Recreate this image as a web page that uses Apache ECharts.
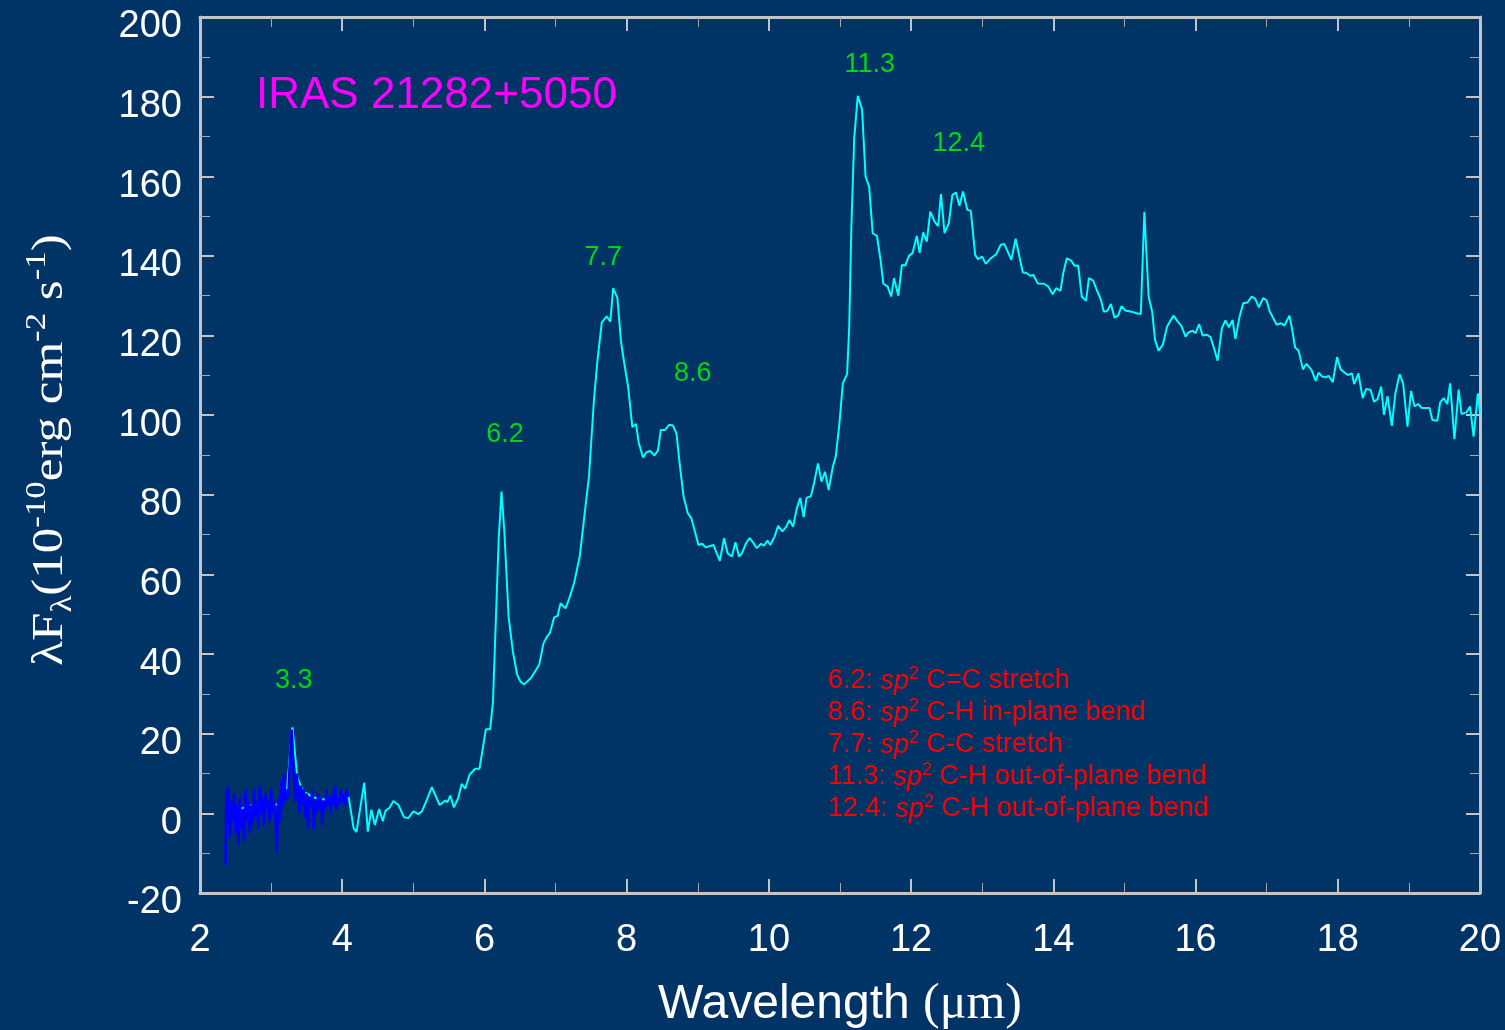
<!DOCTYPE html>
<html>
<head>
<meta charset="utf-8">
<script src="https://cdn.jsdelivr.net/npm/echarts@6/dist/echarts.min.js"></script>
<style>
html,body{margin:0;padding:0;background:#003366;}
#chart{width:1505px;height:1030px;}
</style>
</head>
<body>
<div id="chart"></div>
<script>
// ISO SWS low-resolution spectrum (cyan)
var waveCyan = [2.40,2.55,2.70,2.85,3.00,3.15,3.22,3.27,3.30,3.34,3.37,3.45,3.60,3.75,3.90,4.00,4.09,4.16,4.20,4.31,4.36,4.41,4.46,4.52,4.57,4.61,4.66,4.72,4.79,4.87,4.93,5.00,5.07,5.12,5.19,5.26,5.37,5.45,5.48,5.52,5.57,5.63,5.68,5.73,5.79,5.87,5.93,6.02,6.08,6.12,6.20,6.24,6.28,6.34,6.40,6.46,6.51,6.56,6.66,6.77,6.83,6.88,6.92,6.98,7.03,7.07,7.14,7.19,7.26,7.34,7.41,7.47,7.54,7.59,7.65,7.72,7.77,7.81,7.87,7.92,7.97,8.02,8.08,8.13,8.17,8.23,8.28,8.33,8.39,8.44,8.48,8.54,8.60,8.65,8.70,8.75,8.80,8.86,8.91,8.96,9.01,9.06,9.11,9.22,9.31,9.37,9.42,9.48,9.53,9.58,9.62,9.68,9.73,9.78,9.83,9.89,9.93,9.98,10.02,10.08,10.13,10.19,10.24,10.29,10.34,10.39,10.44,10.49,10.53,10.59,10.64,10.69,10.74,10.79,10.84,10.90,10.94,10.99,11.04,11.10,11.13,11.16,11.20,11.25,11.31,11.36,11.41,11.46,11.52,11.57,11.61,11.67,11.72,11.76,11.82,11.87,11.92,11.97,12.02,12.08,12.12,12.17,12.22,12.27,12.33,12.38,12.42,12.47,12.53,12.58,12.63,12.68,12.73,12.79,12.84,12.90,12.94,13.00,13.05,13.11,13.20,13.26,13.31,13.41,13.47,13.57,13.62,13.68,13.72,13.78,13.87,13.93,13.99,14.04,14.10,14.14,14.19,14.25,14.30,14.35,14.40,14.46,14.50,14.56,14.61,14.67,14.71,14.76,14.81,14.86,14.91,14.96,15.01,15.10,15.17,15.23,15.28,15.34,15.39,15.43,15.48,15.54,15.60,15.69,15.75,15.80,15.86,15.90,15.96,16.00,16.05,16.10,16.16,16.21,16.26,16.31,16.37,16.42,16.47,16.52,16.56,16.62,16.67,16.73,16.79,16.84,16.89,16.95,17.00,17.04,17.14,17.20,17.25,17.32,17.36,17.40,17.45,17.51,17.56,17.63,17.69,17.73,17.78,17.83,17.87,17.93,17.99,18.04,18.09,18.14,18.20,18.23,18.29,18.35,18.40,18.46,18.51,18.56,18.61,18.65,18.70,18.76,18.81,18.87,18.92,18.98,19.03,19.08,19.13,19.18,19.29,19.33,19.40,19.44,19.49,19.54,19.58,19.64,19.70,19.74,19.81,19.86,19.91,19.97,20.00];
var fluxCyan = [2,1,2,1.5,2,2.5,5,16,21.6,14.3,9,5.5,4,3.5,3.5,4,4.2,-3.7,-4.7,7.7,-4.6,0.9,-2.9,1.1,-2.0,0.7,1.3,3.1,2.1,-1.0,-1.2,0.5,-0.2,0.5,3.4,6.6,2.1,3.2,2.8,4.5,1.5,3.8,7.4,6.2,9.7,11.2,11.2,21.1,21.1,28,68.7,80.8,70.8,49.4,40.6,34.8,33.0,32.4,34.1,37.3,42.7,44.4,45.3,49.2,49.6,52.8,51.5,53.8,57.8,64.5,75.4,84.6,103.8,113.9,123.3,124.8,123.5,131.9,129.4,118.5,112.6,107.2,97.0,97.8,93.1,89.4,90.7,91.0,89.9,91.1,96.3,96.3,97.6,97.4,95.5,87.1,79.6,75.4,74.1,70.8,67.4,67.7,66.8,67.4,63.4,69.1,65.3,64.5,68.1,64.5,65.3,67.9,69.1,68.0,66.6,67.7,67.2,68.5,67.4,69.5,72.2,70.8,71.9,73.7,72.0,76.4,79.2,74.4,79.3,79.6,83.3,87.9,83.3,85.8,81.2,87.1,89.6,97.6,108.0,110.3,122.3,147.4,169.6,180.2,176.8,159.9,157.4,145.7,145.0,139.0,133.0,132.3,129.8,134.4,130.0,137.7,137.6,140.0,140.7,145.0,140.8,145.9,143.6,151.1,148.6,147.5,155.5,145.7,148.2,155.3,155.9,152.6,156.2,151.6,151.3,140.3,139.2,139.8,138.0,139.2,140.5,142.8,143.0,139.0,144.3,135.9,135.7,135.0,135.2,133.1,133.0,132.3,130.4,131.9,131.2,135.7,139.4,138.8,137.5,137.6,129.8,128.7,134.4,133.8,131.5,128.9,126.0,126.2,127.9,124.5,125.0,127.4,126.3,126.0,125.6,125.4,151.1,129.8,126.0,118.9,116.2,117.7,122.3,125.0,123.5,122.4,119.7,120.8,121.2,120.6,122.9,120.0,120.2,119.6,116.8,113.7,121.8,123.8,122.1,123.9,119.1,124.8,128.1,128.3,129.8,129.2,127.1,129.4,128.8,126.2,122.7,123.1,122.5,125.0,121.4,117.0,116.2,111.5,112.9,111.4,108.6,110.7,109.7,109.5,109.9,108.3,114.6,111.5,110.8,110.1,110.5,107.8,110.5,104.3,106.6,106.4,103.4,104.0,107.2,100.1,104.8,97.3,105.5,110.3,107.9,97.1,106.1,102.2,102.8,101.8,101.8,98.8,98.6,103.2,104.3,102.8,108.0,94.0,106.4,100.3,100.7,102.2,94.6,105.5,100.5];

// higher-resolution 3 micron spectrum (blue)
var waveBlue = [2.36,2.37,2.38,2.40,2.42,2.44,2.46,2.48,2.50,2.52,2.54,2.56,2.58,2.60,2.62,2.64,2.66,2.68,2.70,2.72,2.74,2.76,2.78,2.80,2.82,2.84,2.86,2.88,2.90,2.92,2.94,2.96,2.98,3.00,3.02,3.04,3.06,3.08,3.10,3.12,3.14,3.16,3.18,3.20,3.22,3.24,3.26,3.28,3.29,3.30,3.32,3.34,3.36,3.38,3.40,3.42,3.44,3.46,3.48,3.50,3.52,3.54,3.56,3.58,3.60,3.62,3.64,3.66,3.68,3.70,3.72,3.74,3.76,3.78,3.80,3.82,3.84,3.86,3.88,3.90,3.92,3.94,3.96,3.98,4.00,4.02,4.04,4.06,4.08];
var fluxBlue = [-13,6,-3,7,-6,3,-2,5,-5,2,-8,4,-4,1,-7,6,-2,3,-5,2,-3,6,-1,3,-4,7,0,4,-3,5,1,3,-2,6,0,3,-1,-10,4,-2,8,1,10,3,6,4,12,18,21,17,9,3,10,5,0,7,2,6,-1,5,-4,4,2,6,-4,3,0,5,1,4,-3,3,1,6,2,4,0,5,2,7,1,4,2,6,3,5,2,6,4];

// band labels
var peakNames = ['3.3','6.2','7.7','8.6','11.3','12.4'];
var peakX = [3.32,6.29,7.67,8.93,11.42,12.67];
var peakY = [33.8,95.6,140,110.9,188.5,168.7];

// axis ticks
var xMin = 2, xMax = 20, xStep = 2;
var yMin = -20, yMax = 200, yStep = 20;

var cyanData = waveCyan.map(function(w,i){return [w, fluxCyan[i]];});
var blueData = waveBlue.map(function(w,i){return [w, fluxBlue[i]];});
var peakData = peakNames.map(function(n,i){return [peakX[i], peakY[i], n];});

var SANS = '"Liberation Sans", Arial, sans-serif';
var SERIF = '"Liberation Serif", "Times New Roman", serif';
var frameColor = '#c4c4c4';

function axisCommon(showLabel, isX) {
  return {
    type: 'value',
    min: isX ? xMin : yMin,
    max: isX ? xMax : yMax,
    interval: isX ? xStep : yStep,
    axisLine: {show: true, onZero: false, lineStyle: {color: frameColor, width: 3}},
    axisTick: {show: true, inside: true, length: 14, lineStyle: {color: frameColor, width: 2}},
    minorTick: {show: true, splitNumber: 2, length: 10, lineStyle: {color: '#a8a8a8', width: 1}},
    splitLine: {show: false},
    minorSplitLine: {show: false},
    axisLabel: isX
      ? {show: showLabel, color: '#ffffff', fontSize: 38, fontFamily: SANS, margin: 29}
      : {show: showLabel, color: '#ffffff', fontSize: 38, fontFamily: SANS, margin: 18,
         verticalAlign: 'top', lineHeight: 20}
  };
}

var chart = echarts.init(document.getElementById('chart'), null, {renderer: 'canvas'});
var xa0 = axisCommon(true, true); xa0.position = 'bottom';
var xa1 = axisCommon(false, true); xa1.position = 'top';
var ya0 = axisCommon(true, false); ya0.position = 'left';
var ya1 = axisCommon(false, false); ya1.position = 'right';

chart.setOption({
  animation: false,
  backgroundColor: '#003366',
  grid: {left: 200, right: 25, top: 17, bottom: 137, containLabel: false},
  xAxis: [xa0, xa1],
  yAxis: [ya0, ya1],
  series: [
    {type: 'line', data: cyanData, showSymbol: false, symbol: 'none',
     lineStyle: {color: '#00ffff', width: 2}, z: 2},
    {type: 'line', data: blueData, showSymbol: false, symbol: 'none',
     lineStyle: {color: '#0000ff', width: 2.5}, z: 3},
    {type: 'scatter', data: peakData, symbolSize: 1, itemStyle: {color: 'rgba(0,0,0,0)'},
     label: {show: true, position: 'inside', offset: [0, 2], formatter: function(p){return p.data[2];},
             color: '#00ff00', fontSize: 27, fontFamily: SANS}, z: 4}
  ],
  graphic: [
    {type: 'text', left: 256, top: 74,
     style: {text: 'IRAS 21282+5050', fill: '#ff00ff', font: '44px ' + SANS}},
    {type: 'text', left: 828, top: 665,
     style: {
       text: '6.2: {i|sp}{s|2} C=C stretch\n8.6: {i|sp}{s|2} C-H in-plane bend\n7.7: {i|sp}{s|2} C-C stretch\n11.3: {i|sp}{s|2} C-H out-of-plane bend\n12.4: {i|sp}{s|2} C-H out-of-plane bend',
       fill: '#ff0000', fontSize: 27, fontFamily: SANS, lineHeight: 32,
       rich: {
         i: {fontStyle: 'italic', fontSize: 27, fontFamily: SANS, fill: '#ff0000', lineHeight: 32},
         s: {fontSize: 18, fontFamily: SANS, fill: '#ff0000', verticalAlign: 'top', lineHeight: 17}
       }
     }},
    {type: 'text', x: 840, y: 1005,
     style: {
       text: 'Wavelength {p|(\u03bcm)}', fill: '#ffffff', fontSize: 48, fontFamily: SANS,
       align: 'center', verticalAlign: 'middle',
       rich: {p: {fontSize: 50, fontFamily: SERIF, fill: '#ffffff'}}
     }},
    {type: 'text', x: 50, y: 450, rotation: Math.PI / 2, scaleX: 1.16,
     style: {
       text: '\u03bbF{sub|\u03bb}(10{sup|-10}erg cm{sup|-2} s{sup|-1})',
       fill: '#ffffff', fontSize: 44, fontFamily: SERIF, lineHeight: 56,
       align: 'center', verticalAlign: 'middle',
       rich: {
         sub: {fontSize: 30, fontFamily: SERIF, fill: '#ffffff', verticalAlign: 'bottom', lineHeight: 30},
         sup: {fontSize: 30, fontFamily: SERIF, fill: '#ffffff', verticalAlign: 'top', lineHeight: 30}
       }
     }}
  ]
});
</script>
</body>
</html>
